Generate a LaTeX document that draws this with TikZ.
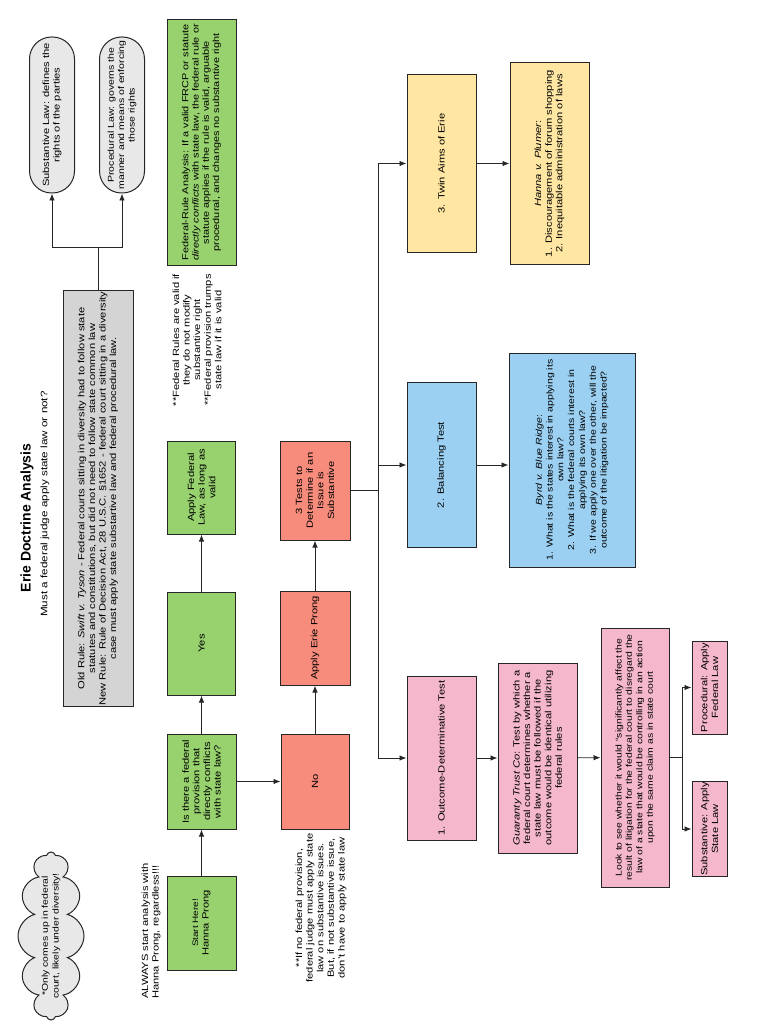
\documentclass[tikz,border=0pt]{standalone}
\usepackage{fontspec}
\setmainfont{Liberation Sans}[FakeStretch=1.24]
\newfontfamily\erietitle{Liberation Sans}
\usepackage{xcolor}
\usetikzlibrary{arrows.meta,shapes.symbols}

\definecolor{erieGreen}{RGB}{151,210,110}
\definecolor{erieRed}{RGB}{248,140,124}
\definecolor{eriePink}{RGB}{245,183,203}
\definecolor{erieBlue}{RGB}{155,208,242}
\definecolor{erieYellow}{RGB}{255,231,163}
\definecolor{erieGray}{RGB}{212,212,212}
\definecolor{erieLight}{RGB}{232,232,232}

\tikzset{
  box/.style={draw=black!85, line width=1pt, rotate=90, align=center, inner sep=1pt,
              font=\fontsize{9}{10.6}\selectfont},
  dims/.style 2 args={minimum width=#1, minimum height=#2},
  note/.style={rotate=90, align=center, inner sep=0pt, font=\fontsize{9}{10.6}\selectfont},
  arr/.style={-{Latex[length=7pt,width=5.5pt]}, line width=0.9pt, draw=black!85},
  link/.style={line width=0.9pt, draw=black!85}
}

\begin{document}
\begin{tikzpicture}[x=1pt,y=-1pt]
\useasboundingbox (0,0) rectangle (768,1024);

% title
\node[note, font=\erietitle\fontsize{14}{16}\selectfont\bfseries] (title) at (27,518) {Erie Doctrine Analysis};
\node[note, font=\fontsize{9.4}{11}\selectfont] (subtitle) at (45,504) {Must a federal judge apply state law or not?};

% cloud
\node[cloud, draw=black!85, line width=1pt, fill=erieLight, cloud puffs=12, aspect=2.6,
      rotate=90, inner sep=0pt, minimum width=168pt, minimum height=66pt] (cloudshape) at (51,936) {};
\node[note, font=\fontsize{8.4}{10.8}\selectfont] (cloudnote) at (51,936) {*Only comes up in federal\\court, likely under diversity!};

% old rule / new rule
\node[box, fill=erieGray, dims={399pt}{70pt}] (oldrule) at (98,498.5)
  {Old Rule: \textit{Swift v. Tyson} - Federal courts sitting in diversity had to follow state\\
   statutes and constitutions, but did not need to follow state common law\\
   New Rule: Rule of Decision Act, 28 U.S.C. \S1652 - federal court sitting in a diversity\\
   case must apply state substartive law and federal procedural law.};
\node[box, fill=erieLight, rounded corners=22pt, dims={156pt}{45pt}] (subslaw) at (52,115)
  {Substantive Law: defines the\\rights of the parties};
\node[box, fill=erieLight, rounded corners=22pt, dims={156pt}{45pt}, font=\fontsize{8.5}{10.4}\selectfont] (proclaw) at (122,115)
  {Procedural Law: governs the\\manner and means of enforcing\\those rights};

% federal prong
\node[note, anchor=west, align=left] (always) at (151,999) {ALWAYS start analysis with\\Hanna Prong, regardless!!!};
\node[box, fill=erieGreen, dims={94pt}{69pt}] (start) at (201.5,923)
  {{\fontsize{8}{10}\selectfont Start Here!}\\Hanna Prong};
\node[box, fill=erieGreen, dims={95pt}{69pt}] (isthere) at (201.5,781.5)
  {Is there a federal\\provision that\\directly conflicts\\with state law?};
\node[box, fill=erieGreen, dims={103pt}{68pt}] (yes) at (201.5,643.5) {Yes};
\node[box, fill=erieGreen, dims={93pt}{68pt}] (applyfed) at (201.5,487.5)
  {Apply Federal\\Law, as long as\\valid};
\node[note] (fednote) at (197,340)
  {**Federal Rules are valid if\\they do not modify\\substantive right\\**Federal provision trumps\\state law if it is valid};
\node[box, fill=erieGreen, dims={245pt}{69pt}, font=\fontsize{8.8}{10.2}\selectfont] (fedrule) at (201.5,142.5)
  {Federal-Rule Analysis: If a valid FRCP or statute\\
   \textit{directly conflicts} with state law, the federal rule or\\
   statute applies if the rule is valid, arguable\\
   procedural, and changes no substantive right};

% erie prong
\node[box, fill=erieRed, dims={95pt}{68pt}] (no) at (315,781.5) {No};
\node[note] (nonote) at (321,908)
  {**If no federal provision,\\federal judge must apply state\\law on substantive issues.\\But, if not substantive issue,\\don't have to apply state law};
\node[box, fill=erieRed, dims={94pt}{70pt}] (erie) at (315,638) {Apply Erie Prong};
\node[box, fill=erieRed, dims={99pt}{70pt}] (tests) at (315,490.5)
  {3 Tests to\\Determine if an\\Issue is\\Substantive};

% three tests
\node[box, fill=eriePink, dims={164pt}{69pt}] (outcome) at (441.5,758) {1. Outcome-Determinative Test};
\node[box, fill=erieBlue, dims={165pt}{69pt}] (balance) at (441.5,465) {2. Balancing Test};
\node[box, fill=erieYellow, dims={177pt}{69pt}] (twin) at (441.5,163.5) {3. Twin Aims of Erie};

\node[box, fill=eriePink, dims={190pt}{79pt}] (guaranty) at (537.5,758)
  {\textit{Guaranty Trust Co}: Test by which a\\federal court determines whether a\\state law must be followed if the\\outcome would be identical utilizing\\federal rules};
\node[box, fill=eriePink, dims={259pt}{68pt}, font=\fontsize{8.4}{10.4}\selectfont] (look) at (635,757.5)
  {Look to see whether it would “significantly affect the\\result of litigation for the federal court to disregard the\\law of a state that would be controlling in an action\\upon the same claim as in state court};
\node[box, fill=eriePink, dims={93pt}{35pt}] (procedural) at (709.5,687.5) {Procedural: Apply\\Federal Law};
\node[box, fill=eriePink, dims={94pt}{35pt}] (substate) at (709.5,829) {Substantive: Apply\\State Law};

\node[box, fill=erieBlue, dims={214pt}{126pt}, font=\fontsize{8.5}{10.8}\selectfont] (byrd) at (572,460)
  {\textit{Byrd v. Blue Ridge}:\\1. What is the states interest in applying its\\own law?\\2. What is the federal courts interest in\\applying its own law?\\3. If we apply one over the other, will the\\outcome of the litigation be impacted?};
\node[box, fill=erieYellow, dims={201pt}{79pt}] (hanna) at (549.5,163.5)
  {\textit{Hanna v. Plumer}:\\1. Discouragement of forum shopping\\2. Inequitable administration of laws};

% connectors
\coordinate (lawsplit) at (98,247);
\draw[link] (oldrule) -- (lawsplit);
\draw[arr] (lawsplit) -| (subslaw);
\draw[arr] (lawsplit) -| (proclaw);

\draw[arr] (start) -- (isthere);
\draw[arr] (isthere) -- (yes);
\draw[arr] (yes) -- (applyfed);
\draw[arr] (isthere) -- (no);
\draw[arr] (no) -- (erie);
\draw[arr] (erie) -- (tests);

\coordinate (testsplit) at (378,490.5);
\draw[link] (tests) -- (testsplit);
\draw[arr] (testsplit) |- (twin);
\draw[arr] (testsplit) |- (balance);
\draw[arr] (testsplit) |- (outcome);

\draw[arr] (outcome) -- (guaranty);
\draw[arr] (guaranty) -- (look);
\coordinate (lawout) at (682,757.5);
\draw[link] (look) -- (lawout);
\draw[arr] (lawout) |- (procedural);
\draw[arr] (lawout) |- (substate);

\draw[arr] (balance) -- (balance -| byrd.north);
\draw[arr] (twin) -- (hanna);
\end{tikzpicture}
\end{document}
